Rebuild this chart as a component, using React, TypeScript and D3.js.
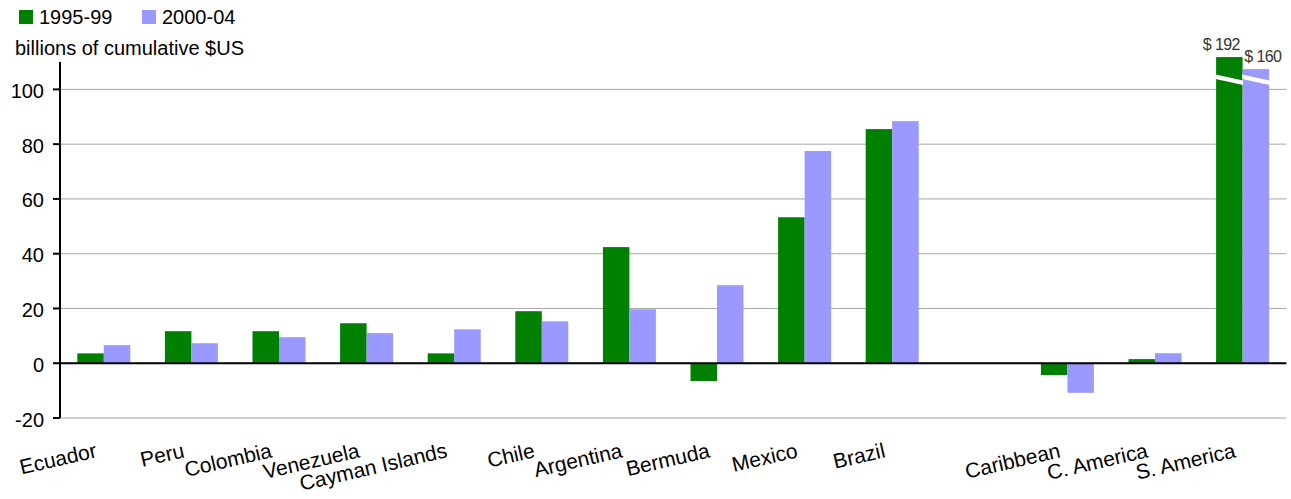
import React from "react";
import * as d3 from "d3";

const categories = ["Ecuador", "Peru", "Colombia", "Venezuela", "Cayman Islands", "Chile", "Argentina", "Bermuda", "Mexico", "Brazil", "", "Caribbean", "C. America", "S. America"];
const series = ["1995-99", "2000-04"];
const values1995 = [3.6, 11.7, 11.7, 14.6, 3.6, 19.0, 42.4, -6.5, 53.3, 85.5, null, -4.3, 1.5, 192];
const values2000 = [6.6, 7.3, 9.5, 11.0, 12.4, 15.3, 19.7, 28.5, 77.5, 88.4, null, -10.8, 3.65, 160];
// heights at which the broken (off-scale) bars are drawn
const brokenDisplay1995 = 111.8;
const brokenDisplay2000 = 107.4;
const breakValue = 103.6;
const yTicks = [-20, 0, 20, 40, 60, 80, 100];
const yDomain = [-20, 110];
const yLabel = "billions of cumulative $US";

const W = 1291, H = 499;
const colors = ["#008000", "#9999FF"];
const FONT = "'Liberation Sans', Arial, sans-serif";

export default function App() {
  const left = 60, right = 1286.4, top = 62, bottom = 418;
  const idx = categories.map((_, i) => String(i));
  const x0 = d3.scaleBand().domain(idx).range([left, right]).paddingInner(0.395).paddingOuter(0.1975);
  const x1 = d3.scaleBand().domain(series).range([0, x0.bandwidth()]);
  const y = d3.scaleLinear().domain(yDomain).range([bottom, top]);
  const data = [values1995, values2000];
  const broken = [brokenDisplay1995, brokenDisplay2000];

  const bars: any[] = [];
  const breaks: any[] = [];
  const valueLabels: any[] = [];
  series.forEach((s, si) => {
    data[si].forEach((v, i) => {
      if (v === null) return;
      const xb = (x0(String(i)) as number) + (x1(s) as number);
      const bw = x1.bandwidth();
      const isBroken = v > yDomain[1];
      const dv = isBroken ? broken[si] : v;
      const y0 = y(0), yv = y(dv);
      bars.push(<rect key={`b${si}-${i}`} x={xb} y={Math.min(y0, yv)} width={bw} height={Math.abs(y0 - yv)} fill={colors[si]} />);
      if (isBroken) {
        const yb = y(breakValue);
        breaks.push(
          <polygon key={`k${si}-${i}`} points={`${xb - 0.5},${yb - 5} ${xb + bw + 0.5},${yb + 1} ${xb + bw + 0.5},${yb + 5.5} ${xb - 0.5},${yb - 0.5}`} fill="#fff" />
        );
        valueLabels.push(
          <text key={`v${si}-${i}`} x={xb + bw / 2 - 8 + si * 15} y={yv - 7.5} textAnchor="middle" fontSize={16} fill="#333" fontFamily={FONT} letterSpacing={-0.6}>
            {`$ ${v}`}
          </text>
        );
      }
    });
  });

  return (
    <svg width={W} height={H} style={{ position: "absolute", left: 0, top: 0, background: "#fff" }}>
      {/* legend */}
      {series.map((s, si) => (
        <g key={s} transform={`translate(${si === 0 ? 19 : 142},10)`}>
          <rect width={14} height={14} fill={colors[si]} />
          <text x={20} y={13.5} fontSize={20} fontFamily={FONT} fill="#000">{s}</text>
        </g>
      ))}
      <text x={15} y={55} fontSize={20} fontFamily={FONT} fill="#000">{yLabel}</text>
      {/* grid */}
      {yTicks.map((t) => (
        <line key={`g${t}`} x1={left} x2={right} y1={y(t)} y2={y(t)} stroke="#a6a6a6" strokeWidth={1} />
      ))}
      {bars}
      {breaks}
      {valueLabels}
      {/* zero line */}
      <line x1={left} x2={right} y1={y(0)} y2={y(0)} stroke="#000" strokeWidth={2} />
      {/* y axis */}
      <line x1={left} x2={left} y1={top} y2={bottom} stroke="#000" strokeWidth={2} />
      {yTicks.map((t) => (
        <g key={`t${t}`}>
          <line x1={left - 7} x2={left} y1={y(t)} y2={y(t)} stroke="#000" strokeWidth={2} />
          <text x={44} y={y(t)} dy={8.5} textAnchor="end" fontSize={20} fontFamily={FONT} fill="#000">{t}</text>
        </g>
      ))}
      {/* category labels */}
      {categories.map((c, i) => {
        const cx = (x0(String(i)) as number) + x0.bandwidth() / 2 - 6;
        return (
          <text key={`c${i}`} transform={`translate(${cx},457) rotate(-13)`} textAnchor="end" fontSize={21} fontFamily={FONT} fill="#000">{c}</text>
        );
      })}
    </svg>
  );
}
